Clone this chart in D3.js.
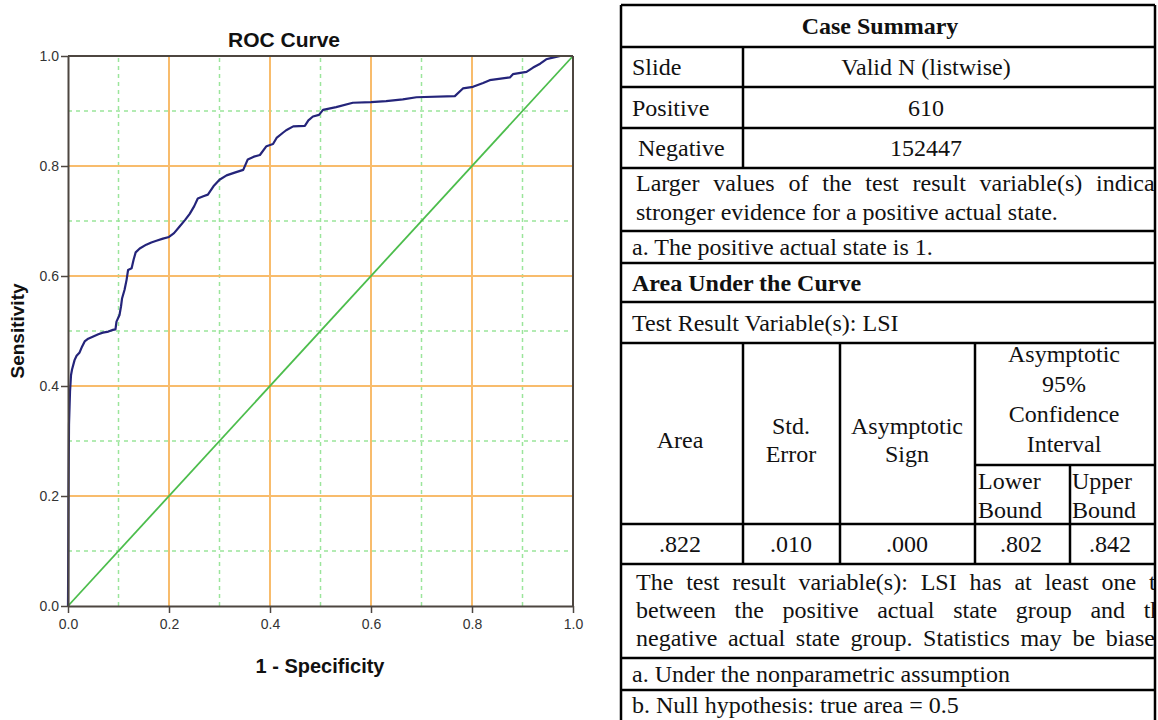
<!DOCTYPE html>
<html>
<head>
<meta charset="utf-8">
<script src="https://cdn.jsdelivr.net/npm/d3@7"></script>
<style>
  body { margin: 0; background: #fff; }
</style>
</head>
<body>
<svg id="chart" width="1158" height="720"></svg>
<script>
// ROC curve: 1 - specificity vs sensitivity
const fpr = [0, 0.001, 0.002, 0.004, 0.006, 0.008, 0.013, 0.017, 0.023, 0.028, 0.033, 0.040, 0.050, 0.060, 0.069, 0.080, 0.089, 0.094,
  0.096, 0.102, 0.105, 0.107, 0.112, 0.116, 0.119, 0.126, 0.130, 0.134, 0.142, 0.155, 0.165, 0.175, 0.188, 0.200, 0.210, 0.221,
  0.232, 0.241, 0.250, 0.257, 0.268, 0.277, 0.288, 0.300, 0.314, 0.330, 0.347, 0.356, 0.368, 0.380, 0.393, 0.406, 0.413, 0.425,
  0.432, 0.446, 0.469, 0.476, 0.485, 0.497, 0.505, 0.531, 0.564, 0.600, 0.630, 0.663, 0.690, 0.766, 0.782, 0.802, 0.822, 0.835,
  0.875, 0.881, 0.908, 0.921, 0.935, 0.947, 0.960, 0.975, 1];
const tpr = [0, 0.200, 0.330, 0.390, 0.420, 0.430, 0.447, 0.455, 0.461, 0.472, 0.481, 0.486, 0.490, 0.494, 0.497, 0.499, 0.502, 0.503,
  0.517, 0.529, 0.545, 0.559, 0.575, 0.593, 0.611, 0.614, 0.630, 0.643, 0.650, 0.657, 0.661, 0.664, 0.668, 0.671, 0.678, 0.690,
  0.702, 0.713, 0.727, 0.741, 0.745, 0.748, 0.763, 0.775, 0.783, 0.788, 0.793, 0.812, 0.817, 0.820, 0.836, 0.840, 0.851, 0.860,
  0.865, 0.872, 0.873, 0.883, 0.890, 0.893, 0.902, 0.907, 0.915, 0.916, 0.918, 0.921, 0.925, 0.927, 0.941, 0.944, 0.951, 0.956,
  0.961, 0.967, 0.971, 0.979, 0.986, 0.994, 0.997, 1.0, 1.0];
const refLine = [0, 1];
const majorTicks = [0, 0.2, 0.4, 0.6, 0.8, 1.0];
const minorTicks = [0.1, 0.3, 0.5, 0.7, 0.9];

// table texts
const caseTitle = 'Case Summary';
const caseRows = [['Slide', 'Valid N (listwise)'], ['Positive', '610'], ['Negative', '152447']];
const caseNote = ['Larger values of the test result variable(s) indicate', 'stronger evidence for a positive actual state.'];
const caseFoot = 'a. The positive actual state is 1.';
const aucTitle = 'Area Under the Curve';
const aucVar = 'Test Result Variable(s): LSI';
const aucHeads = [['Area'], ['Std.', 'Error'], ['Asymptotic', 'Sign']];
const ciHead = ['Asymptotic', '95%', 'Confidence', 'Interval'];
const ciSub = [['Lower', 'Bound'], ['Upper', 'Bound']];
const aucValues = ['.822', '.010', '.000', '.802', '.842'];
const aucNote = ['The test result variable(s): LSI has at least one tie', 'between the positive actual state group and the',
  'negative actual state group. Statistics may be biased.'];
const aucFoot = ['a. Under the nonparametric assumption', 'b. Null hypothesis: true area = 0.5'];

const svg = d3.select('#chart');
svg.append('rect').attr('width', 1158).attr('height', 720).attr('fill', '#fff');

function drawChart() {
  const x = d3.scaleLinear().domain([0, 1]).range([68, 573]);
  const y = d3.scaleLinear().domain([0, 1]).range([606, 56]);
  const g = svg.append('g');
  const inner = majorTicks.filter(d => d > 0 && d < 1);

  // minor grid (green dashed)
  g.selectAll('.vmin').data(minorTicks).join('line')
    .attr('x1', d => x(d)).attr('x2', d => x(d)).attr('y1', y(0)).attr('y2', y(1))
    .attr('stroke', '#9be59b').attr('stroke-width', 1.5).attr('stroke-dasharray', '4,4');
  g.selectAll('.hmin').data(minorTicks).join('line')
    .attr('y1', d => y(d)).attr('y2', d => y(d)).attr('x1', x(0)).attr('x2', x(1))
    .attr('stroke', '#9be59b').attr('stroke-width', 1.5).attr('stroke-dasharray', '4,4');
  // major grid (orange)
  g.selectAll('.vmaj').data(inner).join('line')
    .attr('x1', d => x(d)).attr('x2', d => x(d)).attr('y1', y(0)).attr('y2', y(1))
    .attr('stroke', '#f8bc6c').attr('stroke-width', 2);
  g.selectAll('.hmaj').data(inner).join('line')
    .attr('y1', d => y(d)).attr('y2', d => y(d)).attr('x1', x(0)).attr('x2', x(1))
    .attr('stroke', '#f8bc6c').attr('stroke-width', 2);

  // reference diagonal
  g.append('path')
    .datum(refLine)
    .attr('d', d3.line().x(d => x(d)).y(d => y(d)))
    .attr('fill', 'none').attr('stroke', '#4cbd4c').attr('stroke-width', 1.8);

  // ROC curve
  const pts = fpr.map((f, i) => [f, tpr[i]]);
  g.append('path')
    .datum(pts)
    .attr('d', d3.line().x(d => x(d[0])).y(d => y(d[1])))
    .attr('fill', 'none').attr('stroke', '#24247a').attr('stroke-width', 2.2)
    .attr('stroke-linejoin', 'round');

  // frame top / right
  g.append('line').attr('x1', x(0)).attr('x2', x(1)).attr('y1', y(1)).attr('y2', y(1))
    .attr('stroke', '#4d4640').attr('stroke-width', 2);
  g.append('line').attr('x1', x(1)).attr('x2', x(1)).attr('y1', y(0)).attr('y2', y(1))
    .attr('stroke', '#4d4640').attr('stroke-width', 2);

  const fmt = d3.format('.1f');
  const yAxis = svg.append('g').attr('transform', `translate(${x(0)},0)`)
    .call(d3.axisLeft(y).tickValues(majorTicks).tickFormat(fmt).tickSize(7).tickSizeOuter(0).tickPadding(2));
  const xAxis = svg.append('g').attr('transform', `translate(0,${y(0)})`)
    .call(d3.axisBottom(x).tickValues(majorTicks).tickFormat(fmt).tickSize(7).tickSizeOuter(0).tickPadding(6));
  [xAxis, yAxis].forEach(a => {
    a.select('.domain').attr('stroke', '#4d4640').attr('stroke-width', 2);
    a.selectAll('.tick line').attr('stroke', '#4d4640').attr('stroke-width', 1.5);
    a.selectAll('.tick text').attr('font-family', 'Liberation Sans, Arial, sans-serif')
      .attr('font-size', 14).attr('fill', '#333');
  });

  svg.append('text').attr('x', 284).attr('y', 47).attr('text-anchor', 'middle')
    .attr('font-family', 'Liberation Sans, Arial, sans-serif').attr('font-weight', 'bold')
    .attr('font-size', 21).attr('fill', '#111').text('ROC Curve');
  svg.append('text').attr('x', 320).attr('y', 673).attr('text-anchor', 'middle')
    .attr('font-family', 'Liberation Sans, Arial, sans-serif').attr('font-weight', 'bold')
    .attr('font-size', 20).attr('fill', '#111').text('1 - Specificity');
  svg.append('text').attr('transform', 'translate(24,331) rotate(-90)').attr('text-anchor', 'middle')
    .attr('font-family', 'Liberation Sans, Arial, sans-serif').attr('font-weight', 'bold')
    .attr('font-size', 19).attr('fill', '#111').text('Sensitivity');
}

function drawTable() {
  const L = 621, R = 1155, c1 = 743, c2 = 840, c3 = 975, c4 = 1070;
  const rows = [5, 47, 87, 128, 168, 231, 263, 302, 343, 524, 564, 658, 690];
  const font = 'Liberation Serif, Times New Roman, serif';
  const fs = 24;

  svg.append('clipPath').attr('id', 'tclip').append('rect')
    .attr('x', L).attr('y', 0).attr('width', R - L - 1).attr('height', 720);
  const t = svg.append('g').attr('clip-path', 'url(#tclip)')
    .attr('font-family', font).attr('font-size', fs).attr('fill', '#111');
  const lines = svg.append('g').attr('stroke', '#000').attr('stroke-width', 2.5);

  function txt(xp, yc, s, anchor, bold) {
    return t.append('text').attr('x', xp).attr('y', yc + 8).attr('text-anchor', anchor || 'start')
      .attr('font-weight', bold ? 'bold' : 'normal').text(s);
  }
  // spread the words of one line over a fixed width (the cell clips the end)
  function justify(s, x0, w, yc) {
    const words = s.split(' ');
    const nodes = words.map(wd => t.append('text').attr('y', yc + 8).text(wd));
    const widths = nodes.map(n => n.node().getComputedTextLength());
    const gap = Math.max(5, (w - d3.sum(widths)) / (words.length - 1));
    let cx = x0;
    nodes.forEach((n, i) => { n.attr('x', cx); cx += widths[i] + gap; });
  }
  const mid = i => (rows[i] + rows[i + 1]) / 2;

  // horizontal rules
  lines.selectAll('.h').data(rows).join('line')
    .attr('x1', L).attr('x2', R).attr('y1', d => d).attr('y2', d => d);
  lines.append('line').attr('x1', L).attr('x2', L).attr('y1', rows[0]).attr('y2', 720);
  lines.append('line').attr('x1', R).attr('x2', R).attr('y1', rows[0]).attr('y2', 720);
  lines.append('line').attr('x1', c1).attr('x2', c1).attr('y1', rows[1]).attr('y2', rows[4]);
  [c1, c2, c3].forEach(c => lines.append('line').attr('x1', c).attr('x2', c).attr('y1', rows[8]).attr('y2', rows[10]));
  lines.append('line').attr('x1', c4).attr('x2', c4).attr('y1', 465).attr('y2', rows[10]);
  lines.append('line').attr('x1', c3).attr('x2', R).attr('y1', 465).attr('y2', 465);

  // case summary
  txt(880, mid(0), caseTitle, 'middle', true);
  caseRows.forEach((r, i) => {
    txt(i === 2 ? 638 : 632, mid(i + 1), r[0]);
    txt(926, mid(i + 1), r[1], 'middle');
  });
  justify(caseNote[0], 636, 536, 183);
  txt(636, 212, caseNote[1]);
  txt(632, mid(5), caseFoot);

  // area under the curve
  txt(632, mid(6), aucTitle, 'start', true);
  txt(632, mid(7), aucVar);
  const headX = [680, 791, 907];
  aucHeads.forEach((h, i) => {
    h.forEach((s, j) => txt(headX[i], 440 + (j - (h.length - 1) / 2) * 28, s, 'middle'));
  });
  ciHead.forEach((s, j) => txt(1064, 354 + j * 30, s, 'middle'));
  txt(978, 481, ciSub[0][0]); txt(978, 510, ciSub[0][1]);
  txt(1072, 481, ciSub[1][0]); txt(1072, 510, ciSub[1][1]);
  const valX = [680, 791, 907, 1021, 1110];
  aucValues.forEach((v, i) => txt(valX[i], mid(9), v, 'middle'));
  justify(aucNote[0], 636, 537, 582);
  justify(aucNote[1], 636, 537, 610);
  justify(aucNote[2], 636, 537, 638);
  txt(632, mid(11), aucFoot[0]);
  txt(632, 705, aucFoot[1]);
}

drawChart();
drawTable();
</script>
</body>
</html>
